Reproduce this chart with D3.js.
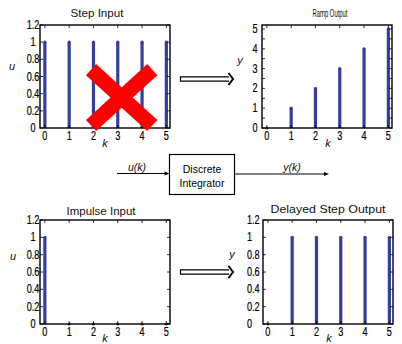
<!DOCTYPE html>
<html>
<head>
<meta charset="utf-8">
<script src="https://cdn.jsdelivr.net/npm/d3@7"></script>
<style>
body { margin: 0; background: #fff; }
svg { font-family: "Liberation Sans", Helvetica, Arial, sans-serif; }
.tick-label { font-size: 12px; fill: #000; stroke: #000; stroke-width: 0.2px; }
.title { font-size: 11px; fill: #111; }
.axis-name { font-size: 11px; font-style: italic; fill: #111; }
</style>
</head>
<body>
<svg width="402" height="344"></svg>
<script>
// data
var k = [0, 1, 2, 3, 4, 5];
var stepInput = [1, 1, 1, 1, 1, 1];
var rampOutput = [0, 1, 2, 3, 4, 5];
var impulseInput = [1, 0, 0, 0, 0, 0];
var delayedStep = [0, 1, 1, 1, 1, 1];
var unitTicks = [0, 0.2, 0.4, 0.6, 0.8, 1, 1.2];
var unitTickLabels = ["0", "0.2", "0.4", "0.6", "0.8", "1", "1.2"];
var rampTicks = [0, 1, 2, 3, 4, 5];
var rampMinor = [0.5, 1.5, 2.5, 3.5, 4.5];

var svg = d3.select("svg");
var stemColor = "#363d9c";
var squeeze = 0.76;

var panels = [
	{title: "Step Input", tx: 97, ty: 17, tw: 53, ylab: "u", yx: 12, yy: 70, kx: 105, ky: 147,
	 x0: 40, x1: 170, y0: 128, y1: 25, ymax: 1.2, values: stepInput, ticks: unitTicks, labels: unitTickLabels, minor: [], anchor: "middle", lx: -7},
	{title: "Ramp Output", tx: 330, ty: 17, tw: 35, fs: 10, ylab: "y", yx: 240, yy: 64, kx: 328, ky: 147,
	 x0: 262, x1: 392, y0: 128, y1: 25, ymax: 5.2, values: rampOutput, ticks: rampTicks, labels: rampTicks.map(String), minor: rampMinor, anchor: "end", lx: -4.5},
	{title: "Impulse Input", tx: 101, ty: 215, tw: 69, ylab: "u", yx: 13, yy: 260, kx: 105, ky: 342,
	 x0: 40, x1: 170, y0: 324, y1: 220, ymax: 1.2, values: impulseInput, ticks: unitTicks, labels: unitTickLabels, minor: [], anchor: "middle", lx: -7},
	{title: "Delayed Step Output", tx: 328, ty: 213, tw: 115, ylab: "y", yx: 232, yy: 258, kx: 329, ky: 342,
	 x0: 263, x1: 393, y0: 324, y1: 220, ymax: 1.2, values: delayedStep, ticks: unitTicks, labels: unitTickLabels, minor: [], anchor: "start", lx: -16}
];

panels.forEach(function(p) {
	var x = d3.scaleLinear().domain([-0.2, 5.15]).range([p.x0, p.x1]);
	var y = d3.scaleLinear().domain([0, p.ymax]).range([p.y0, p.y1]);
	var g = svg.append("g");
	p.x = x; p.y = y;

	// stems
	g.selectAll("line.stem").data(k).enter().append("line")
		.attr("x1", function(d) { return x(d); })
		.attr("x2", function(d) { return x(d); })
		.attr("y1", y(0))
		.attr("y2", function(d, i) { return y(p.values[i]); })
		.attr("stroke", stemColor).attr("stroke-width", 3.2);
	g.selectAll("circle").data(k).enter().append("circle")
		.attr("cx", function(d) { return x(d); })
		.attr("cy", function(d, i) { return y(p.values[i]); })
		.attr("r", 1.6).attr("fill", stemColor);

	// box
	g.append("rect").attr("x", p.x0).attr("y", p.y1)
		.attr("width", p.x1 - p.x0).attr("height", p.y0 - p.y1)
		.attr("fill", "none").attr("stroke", "#000").attr("stroke-width", 1.4);

	// inward ticks on all sides
	var tl = 3;
	k.forEach(function(d) {
		g.append("line").attr("x1", x(d)).attr("x2", x(d)).attr("y1", p.y0).attr("y2", p.y0 - tl).attr("stroke", "#000").attr("stroke-width", 0.8);
		g.append("line").attr("x1", x(d)).attr("x2", x(d)).attr("y1", p.y1).attr("y2", p.y1 + tl).attr("stroke", "#000").attr("stroke-width", 0.8);
	});
	p.ticks.concat(p.minor).forEach(function(d) {
		g.append("line").attr("x1", p.x0).attr("x2", p.x0 + tl).attr("y1", y(d)).attr("y2", y(d)).attr("stroke", "#000").attr("stroke-width", 0.8);
		g.append("line").attr("x1", p.x1).attr("x2", p.x1 - tl).attr("y1", y(d)).attr("y2", y(d)).attr("stroke", "#000").attr("stroke-width", 0.8);
	});

	// tick labels (narrow, like the original)
	g.selectAll("text.xl").data(k).enter().append("text")
		.attr("class", "tick-label").attr("text-anchor", "middle")
		.attr("transform", function(d) { return "translate(" + x(d) + "," + (p.y0 + 12) + ") scale(" + squeeze + ",1)"; })
		.text(function(d) { return d; });
	g.selectAll("text.yl").data(p.ticks).enter().append("text")
		.attr("class", "tick-label").attr("text-anchor", p.anchor)
		.attr("transform", function(d) { return "translate(" + (p.x0 + p.lx) + "," + (y(d) + 4) + ") scale(" + squeeze + ",1)"; })
		.text(function(d, i) { return p.labels[i]; });

	// titles and axis names
	g.append("text").attr("class", "title").attr("text-anchor", "middle")
		.attr("x", p.tx).attr("y", p.ty)
		.style("font-size", (p.fs || 11.5) + "px")
		.attr("textLength", p.tw).attr("lengthAdjust", "spacingAndGlyphs")
		.text(p.title);
	g.append("text").attr("class", "axis-name").attr("text-anchor", "middle")
		.attr("x", p.yx).attr("y", p.yy).text(p.ylab);
	g.append("text").attr("class", "axis-name").attr("text-anchor", "middle")
		.attr("x", p.kx).attr("y", p.ky).text("k");
});

// red cross over step input
var tlp = panels[0];
svg.append("g").selectAll("line").data([[1.9, 0.68, 4.42, 0.03], [4.42, 0.68, 1.9, 0.03]])
	.enter().append("line")
	.attr("x1", function(d) { return tlp.x(d[0]); })
	.attr("y1", function(d) { return tlp.y(d[1]); })
	.attr("x2", function(d) { return tlp.x(d[2]); })
	.attr("y2", function(d) { return tlp.y(d[3]); })
	.attr("stroke", "#ff0000").attr("stroke-width", 15);

// hollow arrows between plots
function hollowArrow(cy) {
	var a = svg.append("g").attr("fill", "none").attr("stroke", "#000");
	a.append("path").attr("d", "M229," + (cy - 2.2) + "H180.5V" + (cy + 2.2) + "H229").attr("stroke-width", 1.2);
	a.append("path").attr("d", "M228.5," + (cy - 6) + "L233," + cy + "L228.5," + (cy + 6)).attr("stroke-width", 2);
}
hollowArrow(79);
hollowArrow(272);

// block diagram
var bd = svg.append("g");
bd.append("rect").attr("x", 169.5).attr("y", 154.5).attr("width", 65).attr("height", 40)
	.attr("fill", "none").attr("stroke", "#000").attr("stroke-width", 1.2);
bd.append("text").attr("x", 202).attr("y", 173).attr("text-anchor", "middle").style("font-size", "10.5px").text("Discrete");
bd.append("text").attr("x", 202).attr("y", 187).attr("text-anchor", "middle").style("font-size", "10.5px").text("Integrator");
bd.append("line").attr("x1", 117).attr("x2", 166).attr("y1", 173.5).attr("y2", 173.5).attr("stroke", "#000").attr("stroke-width", 1);
bd.append("path").attr("d", "M169.5,173.5L164.5,171.5L164.5,175.5Z").attr("fill", "#000");
bd.append("line").attr("x1", 234.5).attr("x2", 325).attr("y1", 174).attr("y2", 174).attr("stroke", "#000").attr("stroke-width", 1);
bd.append("path").attr("d", "M329,174L324,172L324,176Z").attr("fill", "#000");
bd.append("text").attr("class", "axis-name").attr("x", 137).attr("y", 171).attr("text-anchor", "middle").style("font-size", "10.5px").text("u(k)");
bd.append("text").attr("class", "axis-name").attr("x", 292).attr("y", 171).attr("text-anchor", "middle").style("font-size", "10.5px").text("y(k)");
</script>
</body>
</html>
